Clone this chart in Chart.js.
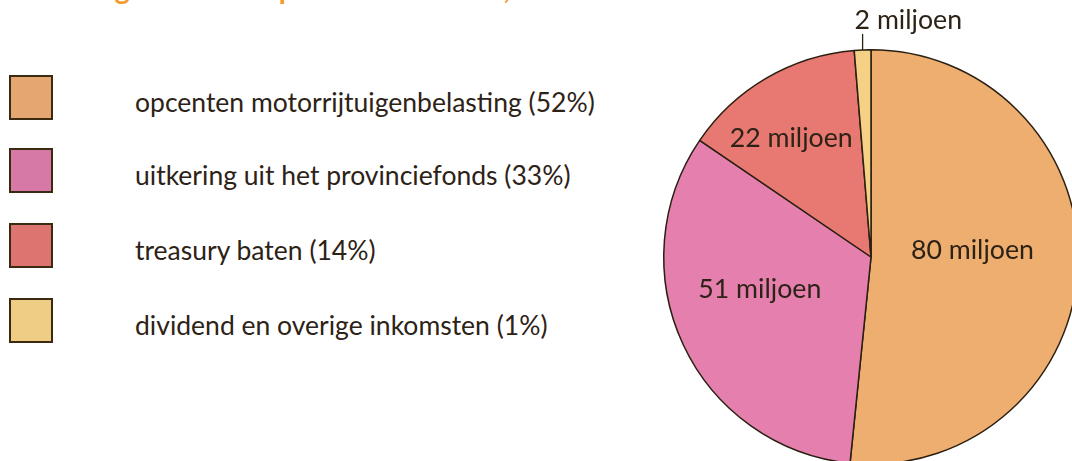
<!DOCTYPE html>
<html>
<head>
<meta charset="utf-8">
<script src="https://cdn.jsdelivr.net/npm/chart.js@4/dist/chart.umd.min.js"></script>
<style>
  html, body { margin:0; padding:0; width:1072px; height:461px; overflow:hidden; background:#fff; }
  #wrap { position:absolute; left:0; top:0; width:1100px; height:480px; }
  #title { position:absolute; left:8px; top:-29px; font-family:Lato, sans-serif; font-weight:bold; font-size:29px; color:#f39a2a; white-space:nowrap; line-height:34px; }
  .leg { position:absolute; left:0; font-family:Lato, sans-serif; color:#2d2216; white-space:nowrap; }
  .sw { position:absolute; left:9px; width:40px; height:41px; border:2px solid #3a2a12; }
  .lt { position:absolute; left:135px; line-height:30px; }
</style>
</head>
<body>
<div id="title"></div>
<div id="legend"></div>
<div id="wrap"><canvas id="c" width="1100" height="480"></canvas></div>
<script>
const titleText = "Verdeling inkomsten provincie Utrecht, 2009";
const categories = [
  "opcenten motorrijtuigenbelasting",
  "uitkering uit het provinciefonds",
  "treasury baten",
  "dividend en overige inkomsten"
];
const values = [80, 51, 22, 2];
const sliceLabels = ["80 miljoen", "51 miljoen", "22 miljoen", "2 miljoen"];
const percentLabels = ["52%", "33%", "14%", "1%"];
const pieColors = ["#eeae70", "#e47fae", "#e87872", "#f5d185"];
const legendColors = ["#e5a672", "#d679a6", "#dd7470", "#efcd85"];

document.getElementById('title').textContent = titleText;

// font sizing to match target text widths
const mctx = document.createElement('canvas').getContext('2d');
function fitSize(text, target, family) {
  mctx.font = '100px ' + family;
  return 100 * target / mctx.measureText(text).width;
}
const legendFont = fitSize(categories[0] + ' (' + percentLabels[0] + ')', 460, 'Lato');
const pieFont = fitSize(sliceLabels[0], 123, 'Lato');

// HTML legend built from the arrays
const legTops = [75, 148, 223, 298];
const legend = document.getElementById('legend');
categories.forEach((cat, i) => {
  const row = document.createElement('div');
  row.className = 'leg';
  row.style.top = legTops[i] + 'px';
  row.style.fontSize = legendFont.toFixed(2) + 'px';
  const sw = document.createElement('div');
  sw.className = 'sw';
  sw.style.background = legendColors[i];
  const t = document.createElement('div');
  t.className = 'lt';
  t.style.top = '12px';
  t.textContent = cat + ' (' + percentLabels[i] + ')';
  row.appendChild(sw);
  row.appendChild(t);
  legend.appendChild(row);
});

// label placement: radial fraction and pixel nudges (styling, not data)
const labelPlacement = [
  { r: 0.49, dx: 0, dy: -12, outside: false },
  { r: 0.56, dx: -6, dy: -17, outside: false },
  { r: 0.66, dx: -11, dy: 0, outside: false },
  { outside: true }
];

const labelPlugin = {
  id: 'sliceLabels',
  afterDatasetsDraw(chart) {
    const ctx = chart.ctx;
    const meta = chart.getDatasetMeta(0);
    ctx.save();
    ctx.font = pieFont.toFixed(2) + 'px Lato, sans-serif';
    ctx.fillStyle = '#2d2216';
    ctx.textBaseline = 'middle';
    meta.data.forEach((arc, i) => {
      const p = arc.getProps(['x','y','startAngle','endAngle','outerRadius'], true);
      const mid = (p.startAngle + p.endAngle) / 2;
      const pl = labelPlacement[i];
      if (pl.outside) {
        const x0 = p.x + Math.cos(mid) * p.outerRadius;
        const y0 = p.y + Math.sin(mid) * p.outerRadius;
        ctx.strokeStyle = '#2d2216';
        ctx.lineWidth = 1.3;
        ctx.beginPath();
        ctx.moveTo(x0, y0);
        ctx.lineTo(x0, y0 - 16);
        ctx.stroke();
        ctx.textAlign = 'left';
        ctx.fillText(sliceLabels[i], x0 - 8, y0 - 30);
      } else {
        const x = p.x + Math.cos(mid) * p.outerRadius * pl.r + pl.dx;
        const y = p.y + Math.sin(mid) * p.outerRadius * pl.r + pl.dy;
        ctx.textAlign = 'center';
        ctx.fillText(sliceLabels[i], x, y);
      }
    });
    ctx.restore();
  }
};

new Chart(document.getElementById('c'), {
  type: 'pie',
  data: {
    labels: categories,
    datasets: [{
      data: values,
      backgroundColor: pieColors,
      borderColor: '#2a1f10',
      borderWidth: 1.5
    }]
  },
  options: {
    responsive: false,
    animation: false,
    layout: { padding: { left: 663, top: 49, right: 21, bottom: 15 } },
    plugins: { legend: { display: false }, tooltip: { enabled: false } }
  },
  plugins: [labelPlugin]
});
</script>
</body>
</html>
